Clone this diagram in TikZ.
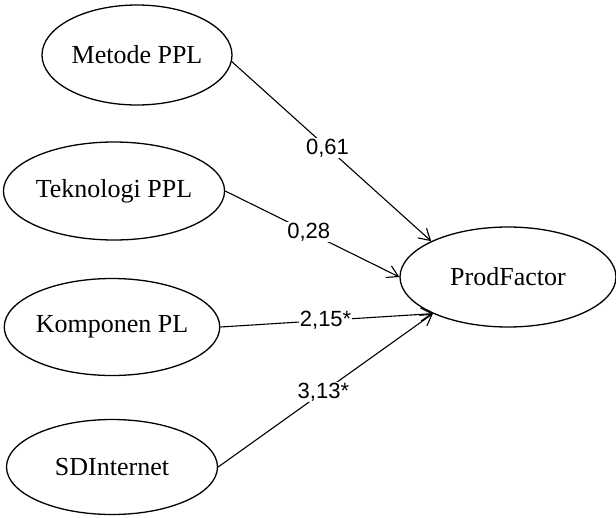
\documentclass[tikz,border=0pt]{standalone}
\usepackage{fontspec}
\setmainfont{Liberation Serif}
\newfontfamily\labelfont{Liberation Sans}
\usetikzlibrary{shapes.geometric,arrows.meta}

\begin{document}
\begin{tikzpicture}[x=1pt,y=-1pt,
  latent/.style={ellipse,draw,line width=1.3pt,inner sep=0pt,
    font=\fontsize{26}{30}\selectfont},
  path/.style={line width=1.1pt,-{Straight Barb[length=11pt,width=13pt,line width=1.1pt]}},
  coef/.style={fill=white,inner sep=1pt,font=\labelfont\fontsize{22}{26}\selectfont}]
  \useasboundingbox (0,0) rectangle (616,517);

  % exogenous constructs
  \node[latent,minimum width=190pt,minimum height=100pt] (metode) at (137,55) {Metode PPL};
  \node[latent,minimum width=214pt,minimum height=98pt] (tekno) at (114,191) {Teknologi PPL};
  \node[latent,minimum width=210pt,minimum height=97pt] (kompo) at (112,327) {Komponen PL};
  \node[latent,minimum width=211pt,minimum height=95pt] (sdi) at (112,467) {SDInternet};

  % endogenous construct
  \node[latent,minimum width=216pt,minimum height=100pt] (prod) at (508,277) {ProdFactor};

  % structural paths with coefficients
  \draw[path] (metode.-4) -- node[coef,pos=0.48] {0,61} (prod.155);
  \draw[path] (tekno.east) -- node[coef,pos=0.48] {0,28} (prod.west);
  \draw[path] (kompo.east) -- node[coef,pos=0.495] {2,15*} (prod.206);
  \draw[path] (sdi.east) -- node[coef,pos=0.49] {3,13*} (prod.206);
\end{tikzpicture}
\end{document}
